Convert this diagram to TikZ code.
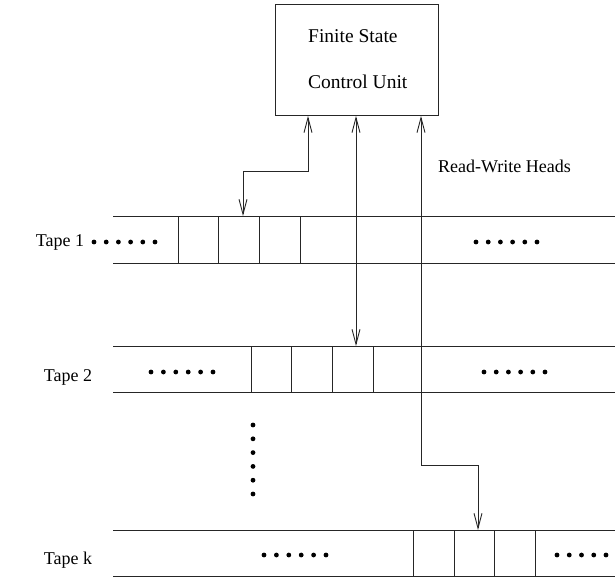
\documentclass[tikz,border=0pt]{standalone}
\usepackage{fontspec}
\setmainfont{Liberation Serif}
\usetikzlibrary{arrows.meta,calc}

\tikzset{
  edge/.style={draw=black!85, line width=0.9pt},
  head/.style={edge, {Straight Barb[length=15pt,width=8pt]}-{Straight Barb[length=15pt,width=8pt]}},
  lbl/.style={font=\fontsize{18}{20}\selectfont, inner sep=0pt},
  boxlbl/.style={font=\fontsize{19.5}{22}\selectfont, inner sep=0pt},
  dotmark/.style={fill=black},
}

% a row of dots: first x, last x, y, count
\newcommand{\dotrow}[4]{%
  \foreach \i in {0,...,\numexpr#4-1\relax}{%
    \fill[dotmark] ({#1+(#2-#1)*\i/(#4-1)},#3) circle (2.4pt);}}

\begin{document}
\begin{tikzpicture}[x=1pt,y=-1pt]
\useasboundingbox (0,0) rectangle (615,579);

% finite state control unit
\node[edge, rectangle, minimum width=163pt, minimum height=111pt, anchor=north west, inner sep=0pt] (ctrl) at (275,4) {};
\node[boxlbl, anchor=west] (t1) at (308,36) {Finite State};
\node[boxlbl, anchor=west] (t2) at (308,82) {Control Unit};

% tape 1
\draw[edge] (113,216) -- (615,216) (113,263) -- (615,263);
\foreach \x in {178,218,259,300} \draw[edge] (\x,216) -- (\x,263);
\dotrow{94}{155}{242}{6}
\dotrow{476}{537}{242}{6}
\node[lbl] (tape1) at (60,242) {Tape 1};

% tape 2
\draw[edge] (113,346) -- (615,346) (113,392) -- (615,392);
\foreach \x in {251,291,332,373} \draw[edge] (\x,346) -- (\x,392);
\dotrow{151}{213}{372}{6}
\dotrow{484}{545}{372}{6}
\node[lbl] (tape2) at (68,377) {Tape 2};

% vertical ellipsis between tapes
\foreach \k in {0,...,5} \fill[dotmark] (253,{425+13.8*\k}) circle (2.4pt);

% tape k
\draw[edge] (113,530) -- (615,530) (113,576) -- (615,576);
\foreach \x in {413,454,494,535} \draw[edge] (\x,530) -- (\x,576);
\dotrow{264}{326}{555}{6}
\dotrow{557}{606}{555}{5}
\node[lbl] (tapek) at (68,560) {Tape k};

% read-write heads
\coordinate (h1) at (243,216);
\coordinate (h2) at (356,346);
\coordinate (h3) at (478,530);
\draw[head] (ctrl.south -| 308,0) -- (308,171) -| (h1);
\draw[head] (ctrl.south -| h2) -- (h2);
\draw[head] (ctrl.south -| 421,0) -- (421,465) -| (h3);
\node[lbl, anchor=west] (rw) at (438,166) {Read-Write Heads};
\end{tikzpicture}
\end{document}
